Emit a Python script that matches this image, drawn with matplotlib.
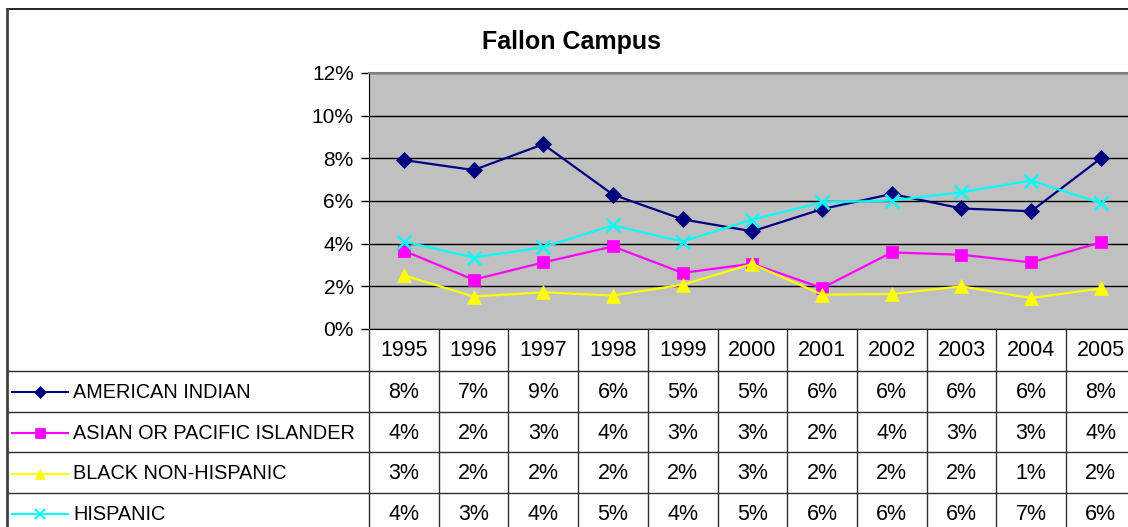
import matplotlib
matplotlib.use("Agg")
import matplotlib.pyplot as plt
from matplotlib.ticker import FuncFormatter

plt.rcParams['font.family'] = ['Liberation Sans', 'DejaVu Sans']

# Datos
years = [1995, 1996, 1997, 1998, 1999, 2000, 2001, 2002, 2003, 2004, 2005]
series_names = ["AMERICAN INDIAN", "ASIAN OR PACIFIC ISLANDER", "BLACK NON-HISPANIC", "HISPANIC"]
american_indian = [7.92, 7.45, 8.66, 6.30, 5.14, 4.58, 5.62, 6.33, 5.65, 5.52, 8.00]
asian_pacific = [3.67, 2.31, 3.12, 3.87, 2.63, 3.06, 1.92, 3.59, 3.48, 3.12, 4.06]
black_non_hispanic = [2.52, 1.52, 1.72, 1.57, 2.08, 3.05, 1.61, 1.64, 2.00, 1.45, 1.90]
hispanic = [4.10, 3.35, 3.83, 4.86, 4.10, 5.13, 5.94, 6.02, 6.41, 6.96, 5.90]

values = [american_indian, asian_pacific, black_non_hispanic, hispanic]
colors = ["#000080", "#FF00FF", "#FFFF00", "#00FFFF"]
markers = ["D", "s", "^", "x"]
msizes = [8.5, 8.5, 9.5, 9.5]

W, H = 1128, 527
fig = plt.figure(figsize=(W / 100, H / 100), dpi=100)

# pixel helpers
def fx(px):
    return px / W

def fy(py):
    return 1 - py / H

plot_left, plot_top, plot_bottom = 369, 73, 329
col_w = 69.7
plot_right = plot_left + col_w * len(years)

ax = fig.add_axes([fx(plot_left), fy(plot_bottom), fx(plot_right - plot_left),
                   (plot_bottom - plot_top) / H])
ax.set_facecolor("#C0C0C0")
x = list(range(len(years)))
for vals, c, m, ms in zip(values, colors, markers, msizes):
    ax.plot(x, vals, color=c, marker=m, markersize=ms, linewidth=1.6,
            markeredgewidth=1.8 if m == "x" else 0.5, zorder=3)

ax.set_xlim(-0.5, len(years) - 0.5)
ax.set_ylim(0, 12)
ax.set_yticks(range(0, 13, 2))
ax.yaxis.set_major_formatter(FuncFormatter(lambda v, p: f"{v:.0f}%"))
ax.yaxis.grid(True, color="black", linewidth=1)
ax.set_axisbelow(True)
ax.set_xticks([])
ax.tick_params(axis="y", length=6, width=1, labelsize=15, pad=5, direction="out")
ax.spines["left"].set_color("black")
ax.spines["top"].set_color("#808080")
ax.spines["top"].set_linewidth(1.5)
ax.spines["right"].set_visible(False)
ax.spines["bottom"].set_color("black")

# overlay for table and frame, in pixel coords
ov = fig.add_axes([0, 0, 1, 1], zorder=5)
ov.set_xlim(0, W)
ov.set_ylim(H, 0)
ov.axis("off")
ov.patch.set_alpha(0)

# chart border
ov.plot([7, W], [9, 9], color="black", linewidth=1.2)
ov.plot([7, 7], [9, H], color="#404040", linewidth=2)

fig.text(fx(572), fy(42), "Fallon Campus", ha="center", va="center",
         fontsize=18, fontweight="bold")

# data table
row_h = 40.7
header_bottom = 371
lc = "#303030"
for i in range(len(years) + 1):
    xx = plot_left + i * col_w
    ov.plot([xx, xx], [plot_bottom, H], color=lc, linewidth=1)
ov.plot([8, W], [header_bottom, header_bottom], color=lc, linewidth=1)
for r in range(1, len(series_names)):
    yy = header_bottom + r * row_h
    ov.plot([8, W], [yy, yy], color=lc, linewidth=1)

for i, yr in enumerate(years):
    ov.text(plot_left + (i + 0.5) * col_w, (plot_bottom + header_bottom) / 2 + 1,
            str(yr), ha="center", va="center", fontsize=15.5)

for r, (name, vals, c, m, ms) in enumerate(zip(series_names, values, colors, markers, msizes)):
    yc = header_bottom + (r + 0.5) * row_h + 1
    ov.plot([12, 68], [yc, yc], color=c, linewidth=1.5)
    ov.plot([40], [yc], color=c, marker=m, markersize=ms - 2,
            markeredgewidth=1.5 if m == "x" else 0.5)
    ov.text(73, yc, name, ha="left", va="center", fontsize=14.3)
    for i, v in enumerate(vals):
        ov.text(plot_left + (i + 0.5) * col_w, yc, f"{v:.0f}%",
                ha="center", va="center", fontsize=15.5)

fig.savefig("out.png", dpi=100)
